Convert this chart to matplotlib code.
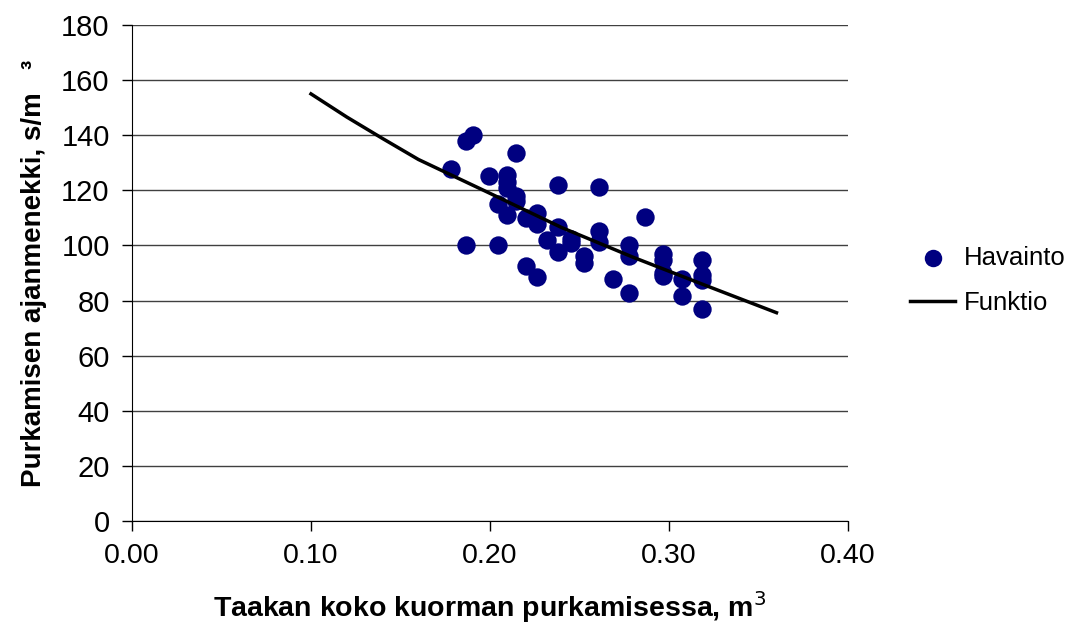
import matplotlib
matplotlib.use("Agg")
import matplotlib.pyplot as plt
from matplotlib import font_manager

# Observed points (Havainto)
obs_x = [0.178, 0.1866, 0.1907, 0.2145, 0.1994, 0.2093, 0.2093, 0.2093, 0.2145, 0.2145,
         0.2382, 0.2607, 0.2043, 0.2093, 0.2201, 0.2261, 0.2261, 0.2382, 0.2607, 0.2607,
         0.2320, 0.2450, 0.2450, 0.2382, 0.2527, 0.2527, 0.1866, 0.2043, 0.2201, 0.2261,
         0.2685, 0.2866, 0.2777, 0.2777, 0.2777, 0.2965, 0.2965, 0.2965, 0.2965, 0.3071,
         0.3071, 0.3183, 0.3183, 0.3183, 0.3183]
obs_y = [127.6, 138.0, 140.1, 133.6, 125.2, 125.5, 123.1, 120.7, 117.9, 116.2,
         121.9, 121.3, 114.9, 111.0, 109.8, 111.9, 107.7, 106.8, 105.4, 101.4,
         102.0, 102.5, 100.8, 97.5, 96.2, 93.7, 100.1, 100.1, 92.5, 88.7,
         87.8, 110.4, 100.1, 96.1, 82.8, 96.8, 94.8, 89.9, 88.9, 87.8,
         81.6, 94.9, 89.3, 87.4, 76.9]

# Function curve (Funktio)
fun_x = [0.10, 0.12, 0.14, 0.16, 0.20, 0.24, 0.28, 0.32, 0.36]
fun_y = [155.0, 146.6, 138.8, 131.2, 118.9, 106.5, 95.7, 85.6, 75.6]

xticks = [0.00, 0.10, 0.20, 0.30, 0.40]
yticks = list(range(0, 181, 20))

names = {f.name for f in font_manager.fontManager.ttflist}
base = "Liberation Sans" if "Liberation Sans" in names else "DejaVu Sans"
plt.rcParams["font.family"] = [base, "DejaVu Sans"]

fig = plt.figure(figsize=(10.79, 6.33), dpi=100)
ax = fig.add_axes([0.1223, 0.1769, 0.786 - 0.1223, 0.9605 - 0.1769])

ax.scatter(obs_x, obs_y, s=175, color="#000080", zorder=3, label="Havainto", linewidths=0)
ax.plot(fun_x, fun_y, color="black", lw=2.5, zorder=4, label="Funktio")

ax.set_xlim(0, 0.40)
ax.set_ylim(0, 180)
ax.set_xticks(xticks)
ax.set_xticklabels([f"{v:.2f}" for v in xticks], fontsize=20.5)
ax.set_yticks(yticks)
ax.set_yticklabels([str(v) for v in yticks], fontsize=21)

ax.yaxis.grid(True, color="#404040", lw=1)
ax.set_axisbelow(True)
for s in ["top", "right"]:
    ax.spines[s].set_visible(False)
ax.spines["left"].set_color("black")
ax.spines["bottom"].set_color("black")
ax.tick_params(axis="both", direction="out", length=7, width=1, color="black")
ax.tick_params(axis="x", pad=9)
ax.tick_params(axis="y", pad=9)

ax.set_xlabel("Taakan koko kuorman purkamisessa, m$^3$", fontsize=20.5, fontweight="bold",
              labelpad=14)
ax.set_ylabel("Purkamisen ajanmenekki, s/m   \u00b3", fontsize=20, fontweight="bold", labelpad=10)

leg = fig.legend(loc="center left", bbox_to_anchor=(0.822, 0.557), frameon=False,
                 fontsize=18.5, handlelength=1.75, handletextpad=0.35, labelspacing=0.8,
                 markerscale=0.95)

fig.savefig("out.png", dpi=100)
